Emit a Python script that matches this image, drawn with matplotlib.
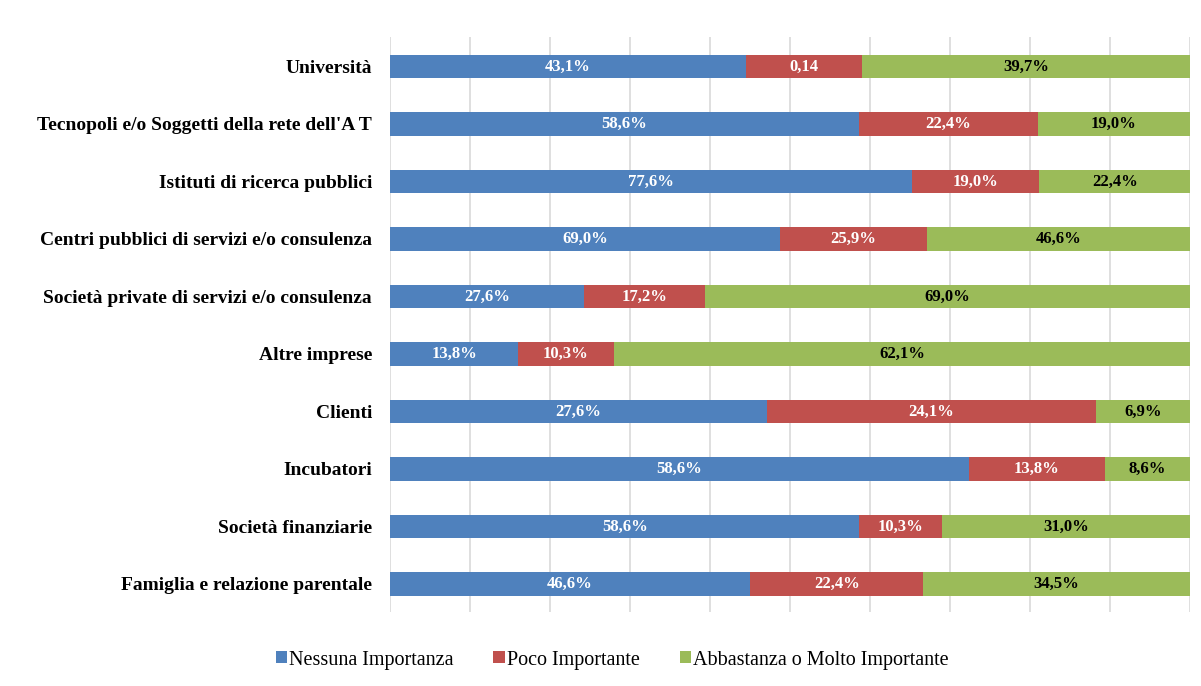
import numpy as np
import matplotlib
matplotlib.use("Agg")
import matplotlib.pyplot as plt

# data (values in %)
categories = [
    "Università",
    "Tecnopoli e/o Soggetti della rete dell'A T",
    "Istituti di ricerca pubblici",
    "Centri pubblici di servizi e/o consulenza",
    "Società private di servizi e/o consulenza",
    "Altre imprese",
    "Clienti",
    "Incubatori",
    "Società finanziarie",
    "Famiglia e relazione parentale",
]
nessuna = [43.1, 58.6, 77.6, 69.0, 27.6, 13.8, 27.6, 58.6, 58.6, 46.6]
poco = [14.0, 22.4, 19.0, 25.9, 17.2, 10.3, 24.1, 13.8, 10.3, 22.4]
molto = [39.7, 19.0, 22.4, 46.6, 69.0, 62.1, 6.9, 8.6, 31.0, 34.5]

nessuna_lbl = ["43,1%", "58,6%", "77,6%", "69,0%", "27,6%", "13,8%", "27,6%", "58,6%", "58,6%", "46,6%"]
poco_lbl = ["0,14", "22,4%", "19,0%", "25,9%", "17,2%", "10,3%", "24,1%", "13,8%", "10,3%", "22,4%"]
molto_lbl = ["39,7%", "19,0%", "22,4%", "46,6%", "69,0%", "62,1%", "6,9%", "8,6%", "31,0%", "34,5%"]

series_names = ["Nessuna Importanza", "Poco Importante", "Abbastanza o Molto Importante"]
colors = ["#4F81BD", "#C0504D", "#9BBB59"]
text_colors = ["white", "white", "black"]

plt.rcParams['font.family'] = ['Liberation Serif', 'DejaVu Serif']

# 100% stacked bars: normalise each row
raw = np.array([nessuna, poco, molto], dtype=float)
share = raw / raw.sum(axis=0) * 100

fig = plt.figure(figsize=(12.01, 6.86), dpi=100)
ax = fig.add_axes([390 / 1201, 1 - 612 / 686, 800 / 1201, (612 - 37) / 686])

y = np.arange(len(categories))
left = np.zeros(len(categories))
labels = [nessuna_lbl, poco_lbl, molto_lbl]
for i in range(3):
    bars = ax.barh(y, share[i], left=left, height=0.41, color=colors[i],
                   label=series_names[i], zorder=3)
    for b, txt in zip(bars, labels[i]):
        ax.text(b.get_x() + b.get_width() / 2, b.get_y() + b.get_height() / 2,
                txt, ha='center', va='center', color=text_colors[i],
                fontsize=12, fontweight='bold', zorder=4)
    left += share[i]

ax.set_xlim(0, 100)
ax.set_ylim(9.487, -0.513)
ax.set_yticks(y)
ax.set_yticklabels(categories, fontsize=14, fontweight='bold')
ax.set_xticks(np.arange(0, 101, 10))
ax.set_xticklabels([])
ax.tick_params(axis='both', length=0, pad=13)
ax.grid(axis='x', color='#D9D9D9', linewidth=1.2, zorder=0)
for s in ax.spines.values():
    s.set_visible(False)

fig.legend(loc='center', bbox_to_anchor=(612 / 1201, 1 - 660 / 686), ncol=3,
           frameon=False, fontsize=14.5, handlelength=0.55, handleheight=0.55,
           handletextpad=0.1, columnspacing=2.0)

fig.savefig("out.png", dpi=100)
